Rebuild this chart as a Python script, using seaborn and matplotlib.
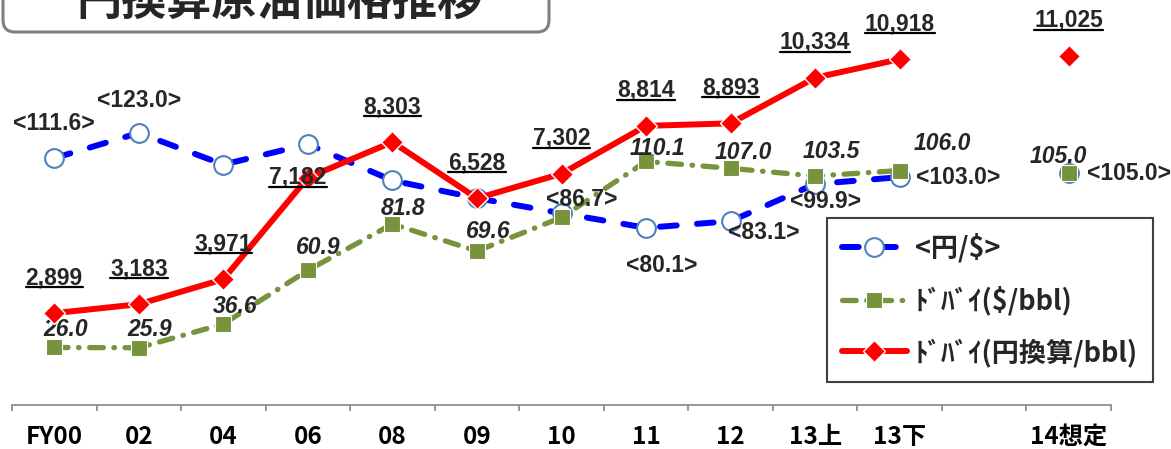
import matplotlib
matplotlib.use('Agg')
import numpy as np
import pandas as pd
import matplotlib.pyplot as plt
import seaborn as sns
from matplotlib.lines import Line2D
from matplotlib.patches import FancyBboxPatch
from matplotlib.transforms import IdentityTransform
from matplotlib.font_manager import FontProperties

# データ（2013年度は上期/下期、14年度は想定値）
categories = ['FY00', '02', '04', '06', '08', '09', '10', '11', '12', '13上', '13下', '', '14想定']
yen_per_usd = [111.6, 123.0, 108.7, 117.9, 101.5, 93.5, 86.7, 80.1, 83.1, 99.9, 103.0, np.nan, 105.0]
dubai_usd = [26.0, 25.9, 36.6, 60.9, 81.8, 69.6, 84.8, 110.1, 107.0, 103.5, 106.0, np.nan, 105.0]
dubai_jpy = [2899, 3183, 3971, 7182, 8303, 6528, 7302, 8814, 8893, 10334, 10918, np.nan, 11025]

# ラベルを出す点
yen_shown = [0, 1, 6, 7, 8, 9, 10, 12]
usd_shown = [0, 1, 2, 3, 4, 5, 7, 8, 9, 10, 12]
jpy_shown = [0, 1, 2, 3, 4, 5, 6, 7, 8, 9, 10, 12]

# ラベル位置のずれ（ピクセル、右/下が正）
yen_off = {0: (0, -37), 1: (0, -35), 6: (20, -16), 7: (16, 35), 8: (33, 9),
           9: (10, 15), 10: (58, -2), 12: (60, -2)}
usd_off = {0: (11, -20), 1: (11, -21), 2: (12, -20), 3: (10, -25), 4: (11, -18),
           5: (11, -22), 7: (11, -15), 8: (13, -18), 9: (16, -27), 10: (43, -30),
           12: (-10, -19)}
jpy_off = {i: (0, -38) for i in jpy_shown}
jpy_off[3] = (-10, -3)

df = pd.DataFrame({'pos': np.arange(len(categories)), 'cat': categories,
                   'yen': yen_per_usd, 'usd': dubai_usd, 'jpy': dubai_jpy})
main = df.iloc[:11]
last = df.iloc[12:]

sns.set_theme(style='white')
plt.rcParams['font.family'] = ['Liberation Sans', 'DejaVu Sans']
jp = ['Noto Sans CJK JP', 'DejaVu Sans']

W, H = 1171, 449
fig = plt.figure(figsize=(W / 100, H / 100), dpi=100)
ax = fig.add_axes([12 / W, 44 / H, (1111 - 12) / W, 405 / H])
ax2 = ax.twinx()

BLUE, BLUE_EDGE = '#0000FF', '#4F81BD'
GREEN, RED = '#77933C', '#FF0000'

yen_style = dict(color=BLUE, lw=4.3, linestyle=(0, (2.8, 3.4)), dash_capstyle='round',
                 marker='o', ms=13.5, mfc='white', mec=BLUE_EDGE, mew=1.5)
usd_style = dict(color=GREEN, lw=3.8, linestyle=(0, (2.6, 2.0, 0.1, 2.0)), dash_capstyle='round',
                 marker='s', ms=12, mfc=GREEN, mec='white', mew=0.8)
jpy_style = dict(color=RED, lw=4.3, marker='D', ms=11, mfc=RED, mec='white', mew=1.0)

sns.lineplot(data=main, x='pos', y='yen', ax=ax, label='<円/$>', **yen_style)
sns.lineplot(data=last, x='pos', y='yen', ax=ax, **yen_style)
sns.lineplot(data=main, x='pos', y='usd', ax=ax, label='ﾄﾞﾊﾞｲ($/bbl)', **usd_style)
sns.lineplot(data=last, x='pos', y='usd', ax=ax, **usd_style)
sns.lineplot(data=main, x='pos', y='jpy', ax=ax2, label='ﾄﾞﾊﾞｲ(円換算/bbl)', **jpy_style)
sns.lineplot(data=last, x='pos', y='jpy', ax=ax2, **jpy_style)

for a in (ax, ax2):
    if a.get_legend():
        a.get_legend().remove()
    a.set_xlabel('')
    a.set_ylabel('')
    a.set_yticks([])
    for s in ('left', 'right', 'top'):
        a.spines[s].set_visible(False)

ax.set_ylim(0, 405 / 2.212)
ax2.set_ylim(0, 405 / 0.03167)
ax.set_xlim(-0.5, len(categories) - 0.5)
ax2.spines['bottom'].set_visible(False)
ax.spines['bottom'].set_color('#868686')
ax.spines['bottom'].set_linewidth(1.2)

ax.set_xticks(df['pos'])
ax.set_xticklabels(categories, family=jp, weight='bold', fontsize=17.5)
ax.set_xticks(np.arange(-0.5, len(categories)), minor=True)
ax.tick_params(axis='x', which='major', length=0, pad=14.5, colors='black')
ax.tick_params(axis='x', which='minor', bottom=True, length=4.5, width=1.2, color='#868686')


def px(d):
    return (d[0] * 0.72, -d[1] * 0.72)


for i in yen_shown:
    ax.annotate(f'<{yen_per_usd[i]:.1f}>', (i, yen_per_usd[i]), xytext=px(yen_off[i]),
                textcoords='offset points', ha='center', va='center_baseline',
                fontsize=16.5, weight='bold')
for i in usd_shown:
    ax.annotate(f'{dubai_usd[i]:.1f}', (i, dubai_usd[i]), xytext=px(usd_off[i]),
                textcoords='offset points', ha='center', va='center_baseline',
                fontsize=16.5, weight='bold', style='italic')
jpy_texts = []
for i in jpy_shown:
    t = ax2.annotate(f'{dubai_jpy[i]:,.0f}', (i, dubai_jpy[i]), xytext=px(jpy_off[i]),
                     textcoords='offset points', ha='center', va='center_baseline',
                     fontsize=16.5, weight='bold')
    jpy_texts.append(t)

h1, l1 = ax.get_legend_handles_labels()
h2, l2 = ax2.get_legend_handles_labels()
leg = ax2.legend(h1 + h2, l1 + l2, loc='upper left', bbox_to_anchor=(827 / W, 1 - 218 / H),
                 bbox_transform=fig.transFigure, borderaxespad=0, frameon=True, fancybox=False,
                 framealpha=1, edgecolor='#404040', numpoints=1,
                 prop=FontProperties(family=jp, weight='bold', size=19.5),
                 handlelength=2.4, handletextpad=0.3, borderpad=0.55, labelspacing=0.85)
leg.get_frame().set_linewidth(1.5)

# タイトル枠
fig.add_artist(FancyBboxPatch((3, H - 32), 546, 80, boxstyle='round,pad=0,rounding_size=12',
                              transform=IdentityTransform(), facecolor='white',
                              edgecolor='#7F7F7F', lw=2.2, zorder=5))
fig.text(279 / W, 1 - 15 / H, '円換算原油価格推移', ha='center', va='baseline',
         fontsize=32.5, weight='bold', family=jp, zorder=6)

# 円換算ラベルの下線
fig.canvas.draw()
r = fig.canvas.get_renderer()
for t in jpy_texts:
    bb = t.get_window_extent(r)
    y = bb.y0 + 2
    fig.add_artist(Line2D([bb.x0, bb.x1], [y, y], transform=IdentityTransform(),
                          color='black', lw=1.6))

fig.savefig('out.png', dpi=100)
